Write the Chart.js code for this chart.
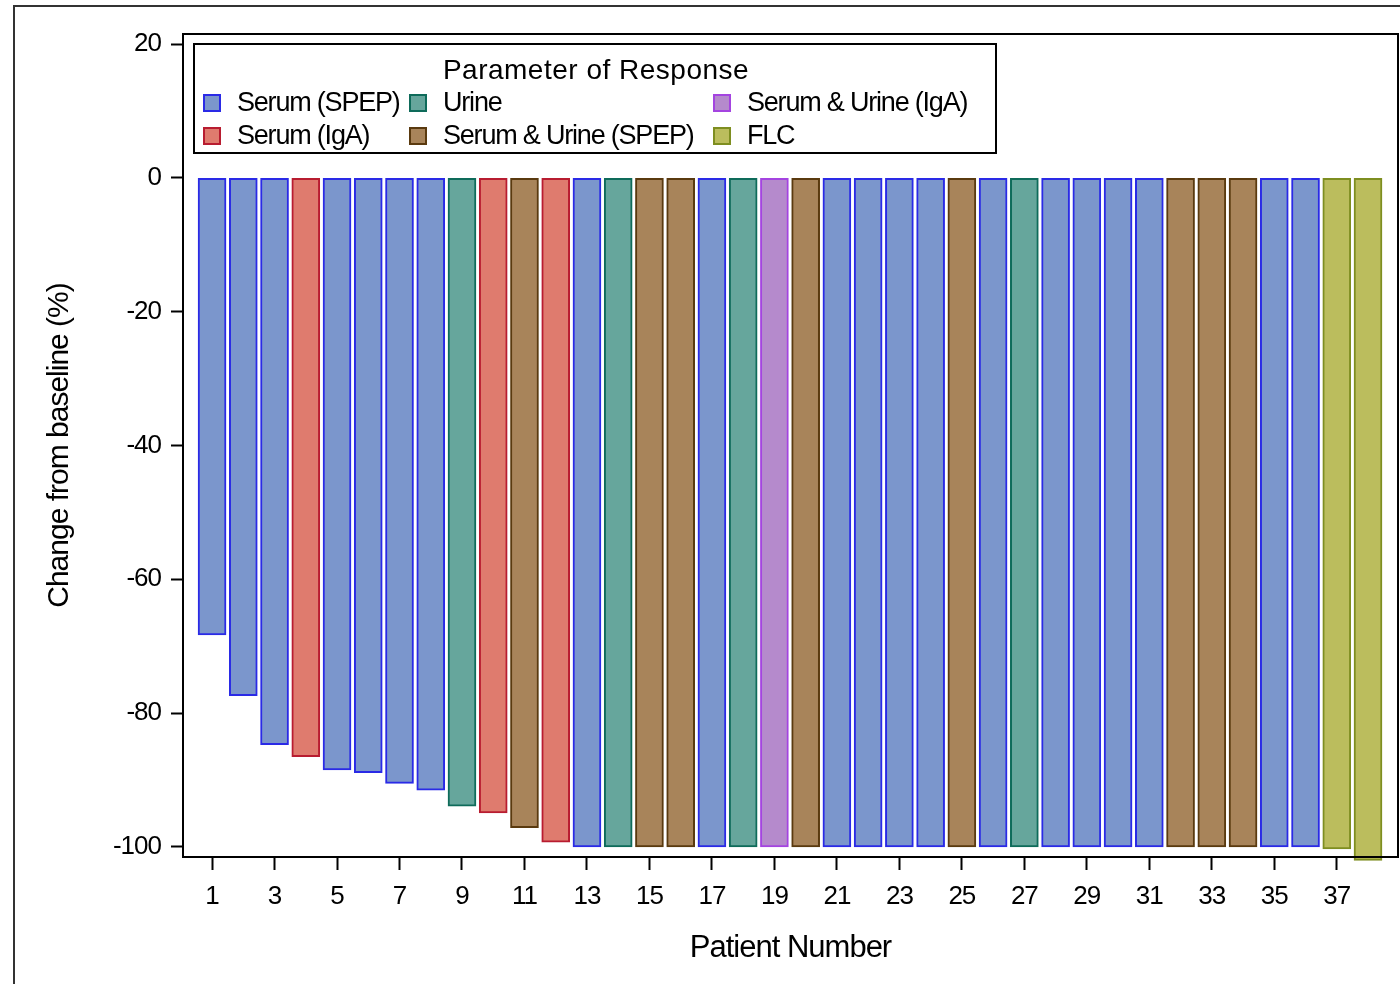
<!DOCTYPE html>
<html>
<head>
<meta charset="utf-8">
<script src="https://cdn.jsdelivr.net/npm/chart.js@4/dist/chart.umd.min.js"></script>
<style>
  html, body { margin: 0; padding: 0; background: #fff; }
  #wrap { position: relative; width: 1400px; height: 984px; overflow: hidden; }
  #frame { position: absolute; left: 13px; top: 5px; width: 1500px; height: 1100px; border-left: 2px solid #333; border-top: 2px solid #333; box-sizing: border-box; pointer-events: none; }
  canvas { position: absolute; left: 0; top: 0; }
</style>
</head>
<body>
<div id="wrap">
  <canvas id="c" width="1400" height="984"></canvas>
  <div id="frame"></div>
</div>
<script>
// ---- data ----
const patients = [1,2,3,4,5,6,7,8,9,10,11,12,13,14,15,16,17,18,19,20,21,22,23,24,25,26,27,28,29,30,31,32,33,34,35,36,37,38];
const changes = [-68.3,-77.4,-84.7,-86.5,-88.5,-88.9,-90.5,-91.5,-93.9,-94.9,-97.1,-99.3,
  -100,-100,-100,-100,-100,-100,-100,-100,-100,-100,-100,-100,
  -100,-100,-100,-100,-100,-100,-100,-100,-100,-100,-100,-100,
  -100.3,-102];
const responseParam = [
  'Serum (SPEP)','Serum (SPEP)','Serum (SPEP)','Serum (IgA)','Serum (SPEP)','Serum (SPEP)','Serum (SPEP)','Serum (SPEP)',
  'Urine','Serum (IgA)','Serum & Urine (SPEP)','Serum (IgA)','Serum (SPEP)','Urine','Serum & Urine (SPEP)','Serum & Urine (SPEP)',
  'Serum (SPEP)','Urine','Serum & Urine (IgA)','Serum & Urine (SPEP)','Serum (SPEP)','Serum (SPEP)','Serum (SPEP)','Serum (SPEP)',
  'Serum & Urine (SPEP)','Serum (SPEP)','Urine','Serum (SPEP)','Serum (SPEP)','Serum (SPEP)','Serum (SPEP)','Serum & Urine (SPEP)',
  'Serum & Urine (SPEP)','Serum & Urine (SPEP)','Serum (SPEP)','Serum (SPEP)','FLC','FLC'];
const legendOrder = ['Serum (SPEP)','Serum (IgA)','Urine','Serum & Urine (SPEP)','Serum & Urine (IgA)','FLC'];
const legendTitle = 'Parameter of Response';
const xTickValues = [1,3,5,7,9,11,13,15,17,19,21,23,25,27,29,31,33,35,37];
const yTickValues = [20,0,-20,-40,-60,-80,-100];
const xTitle = 'Patient Number';
const yTitle = 'Change from baseline (%)';

// ---- styles ----
const palette = {
  'Serum (SPEP)':        { fill: '#7B96CC', line: '#2A2AE6' },
  'Serum (IgA)':         { fill: '#DF7B6E', line: '#B81C30' },
  'Urine':               { fill: '#66A69C', line: '#0E6B5A' },
  'Serum & Urine (SPEP)':{ fill: '#A8845A', line: '#5A3A0F' },
  'Serum & Urine (IgA)': { fill: '#B58ACC', line: '#A444E0' },
  'FLC':                 { fill: '#BBBD5D', line: '#7E8E20' }
};
const FONT = '"Liberation Sans", Arial, sans-serif';

const spacingPlugin = {
  id: 'spacingPlugin',
  beforeDraw(chart) { chart.ctx.letterSpacing = '-1px'; }
};

const framePlugin = {
  id: 'framePlugin',
  afterDraw(chart) {
    const { ctx, chartArea: a } = chart;
    ctx.save();
    ctx.strokeStyle = '#000';
    ctx.lineWidth = 2;
    ctx.strokeRect(a.left, a.top, a.right - a.left, a.bottom - a.top);
    ctx.restore();
  }
};

const legendPlugin = {
  id: 'insideLegend',
  afterDraw(chart) {
    const { ctx, chartArea: a } = chart;
    const bx = a.left + 11, by = a.top + 10, bw = 802, bh = 109;
    ctx.save();
    ctx.fillStyle = '#fff';
    ctx.fillRect(bx, by, bw, bh);
    ctx.strokeStyle = '#000';
    ctx.lineWidth = 2;
    ctx.strokeRect(bx, by, bw, bh);
    ctx.fillStyle = '#000';
    ctx.textBaseline = 'middle';
    ctx.textAlign = 'center';
    ctx.letterSpacing = '0.5px';
    ctx.font = '28px ' + FONT;
    ctx.fillText(legendTitle, bx + 402, by + 27);
    ctx.letterSpacing = '-1.2px';
    ctx.font = '27px ' + FONT;
    ctx.textAlign = 'left';
    const cols = [bx + 9, bx + 215, bx + 519];
    const rows = [by + 59, by + 92];
    legendOrder.forEach((name, i) => {
      const cx = cols[Math.floor(i / 2)], cy = rows[i % 2];
      const p = palette[name];
      ctx.fillStyle = p.fill;
      ctx.fillRect(cx, cy - 9, 18, 18);
      ctx.strokeStyle = p.line;
      ctx.lineWidth = 2;
      ctx.strokeRect(cx + 1, cy - 8, 16, 16);
      ctx.fillStyle = '#000';
      ctx.fillText(name, cx + 34, cy + 1);
    });
    ctx.restore();
  }
};

new Chart(document.getElementById('c'), {
  type: 'bar',
  data: {
    datasets: [{
      data: patients.map((p, i) => ({ x: p, y: changes[i] })),
      backgroundColor: responseParam.map(g => palette[g].fill),
      borderColor: responseParam.map(g => palette[g].line),
      borderWidth: 2,
      borderSkipped: false,
      barThickness: 28,
      clip: false
    }]
  },
  options: {
    responsive: false,
    animation: false,
    devicePixelRatio: 1,
    layout: { padding: { left: 38, top: 34, right: 2, bottom: 18 } },
    plugins: { legend: { display: false }, tooltip: { enabled: false } },
    scales: {
      x: {
        type: 'linear',
        offset: false,
        min: 0.07,
        max: 38.96,
        afterBuildTicks(scale) { scale.ticks = xTickValues.map(v => ({ value: v })); },
        afterFit(scale) { scale.height = 984 - 857 - 18; },
        ticks: { color: '#000', font: { family: FONT, size: 26 }, padding: 11, maxRotation: 0, autoSkip: false },
        grid: { offset: false, drawOnChartArea: false, drawTicks: true, tickLength: 13, tickWidth: 2, tickColor: '#000' },
        border: { display: true, color: '#000', width: 2 },
        title: { display: true, text: xTitle, color: '#000', font: { family: FONT, size: 31 }, padding: { top: 0, bottom: -1 } }
      },
      y: {
        type: 'linear',
        min: -101.5,
        max: 21.5,
        afterBuildTicks(scale) { scale.ticks = yTickValues.map(v => ({ value: v })); },
        afterFit(scale) { scale.width = 183 - 38; },
        ticks: { color: '#000', font: { family: FONT, size: 26 }, padding: 10 },
        grid: { drawOnChartArea: false, drawTicks: true, tickLength: 12, tickWidth: 2, tickColor: '#000' },
        border: { display: true, color: '#000', width: 2 },
        title: { display: true, text: yTitle, color: '#000', font: { family: FONT, size: 30 }, padding: { top: 4, bottom: 0 } }
      }
    }
  },
  plugins: [spacingPlugin, framePlugin, legendPlugin]
});
</script>
</body>
</html>
